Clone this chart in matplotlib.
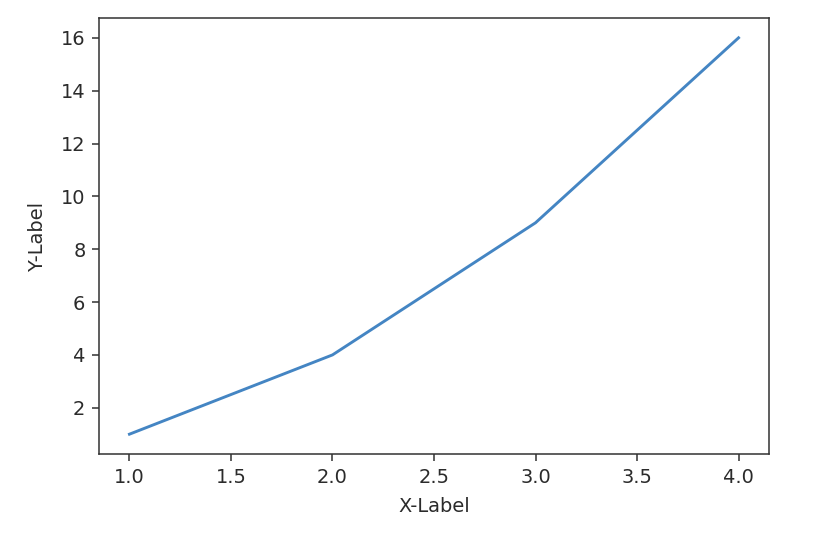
import matplotlib
matplotlib.use("Agg")
import matplotlib.pyplot as plt

x = [1, 2, 3, 4]
y = [1, 4, 9, 16]

W, H = 836, 536
dpi = 72 * 1.935
txt = "#2b2b2b"
plt.rcParams.update({
    "text.color": txt, "axes.labelcolor": txt,
    "xtick.color": "#333333", "ytick.color": "#333333",
    "xtick.labelcolor": txt, "ytick.labelcolor": txt,
    "axes.edgecolor": "#333333",
})
fig = plt.figure(figsize=(W / dpi, H / dpi), dpi=dpi)
left, right, top, bottom = 99, 769, 18, 454
ax = fig.add_axes([left / W, 1 - bottom / H, (right - left) / W, (bottom - top) / H])
ax.plot(x, y, color="#3a7fc0", alpha=0.95)
ax.set_xlabel("X-Label", labelpad=5.5)
ax.set_ylabel("Y-Label", labelpad=7)
fig.savefig("out.png", dpi=dpi)
